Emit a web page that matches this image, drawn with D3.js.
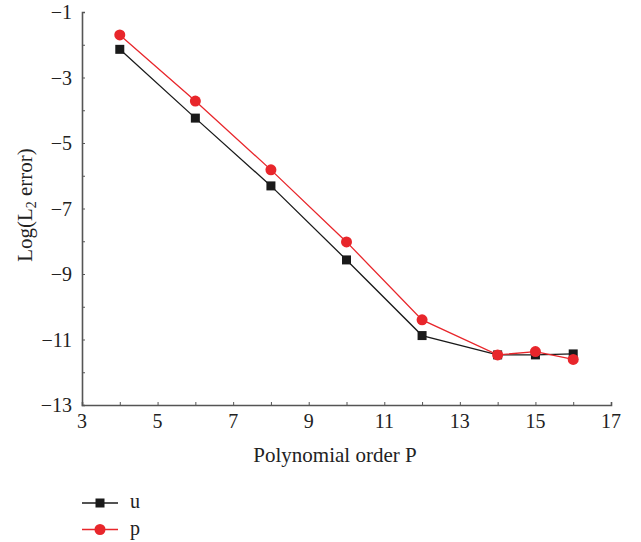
<!DOCTYPE html>
<html>
<head>
<meta charset="utf-8">
<script src="https://cdn.jsdelivr.net/npm/d3@7"></script>
<style>
  body { margin: 0; background: #fff; }
  svg text { font-family: "Liberation Serif", serif; fill: #222; }
</style>
</head>
<body>
<svg id="chart" width="641" height="542"></svg>
<script>
// polynomial order and log of L2 error for each field
const orders = [4, 6, 8, 10, 12, 14, 15, 16];
const erreurU = [-2.14, -4.24, -6.31, -8.57, -10.88, -11.47, -11.47, -11.44];
const erreurP = [-1.70, -3.72, -5.82, -8.02, -10.40, -11.47, -11.37, -11.61];
const xTicks = [3, 5, 7, 9, 11, 13, 15, 17];
const yTicks = [-1, -3, -5, -7, -9, -11, -13];

const svg = d3.select("#chart");
const marge = { left: 82, right: 30, top: 12, bottom: 137 };
const largeur = 641, hauteur = 542;

const x = d3.scaleLinear().domain([3, 17]).range([marge.left, largeur - marge.right]);
const y = d3.scaleLinear().domain([-13, -1]).range([hauteur - marge.bottom, marge.top]);

const couleurAxe = "#555";

// axes with inward minor ticks
const axeX = svg.append("g").attr("transform", `translate(0,${y(-13)})`)
  .call(d3.axisBottom(x).tickValues(d3.range(3, 18, 1)).tickSize(-3).tickFormat(""));
const axeY = svg.append("g").attr("transform", `translate(${x(3)},0)`)
  .call(d3.axisLeft(y).tickValues(d3.range(-13, 0, 1)).tickSize(-3).tickFormat(""));

[axeX, axeY].forEach(a => {
  a.select(".domain").attr("stroke", couleurAxe).attr("stroke-width", 1.6);
  a.selectAll(".tick line").attr("stroke", couleurAxe).attr("stroke-width", 1);
});

// tick labels
svg.append("g").selectAll("text").data(xTicks).enter().append("text")
  .attr("x", d => x(d)).attr("y", y(-13) + 23)
  .attr("text-anchor", "middle").style("font-size", "20px")
  .text(d => d);

svg.append("g").selectAll("text").data(yTicks).enter().append("text")
  .attr("x", x(3) - 10).attr("y", d => y(d)).attr("dy", "0.35em")
  .attr("text-anchor", "end").style("font-size", "20px")
  .text(d => "\u2212" + Math.abs(d));

// axis titles
svg.append("text")
  .attr("x", 335).attr("y", 462)
  .attr("text-anchor", "middle").style("font-size", "21px")
  .text("Polynomial order P");

const titreY = svg.append("text")
  .attr("transform", `translate(32,205) rotate(-90)`)
  .attr("text-anchor", "middle").style("font-size", "21px");
titreY.append("tspan").text("Log(L");
titreY.append("tspan").attr("dy", 4).style("font-size", "14px").text("2");
titreY.append("tspan").attr("dy", -4).text(" error)");

const series = [
  { nom: "u", valeurs: erreurU, couleur: "#1a1a1a", forme: "carre" },
  { nom: "p", valeurs: erreurP, couleur: "#e8262b", forme: "rond" }
];

const ligne = d3.line().x(d => x(d[0])).y(d => y(d[1]));

function dessinerMarque(g, forme, couleur, cx, cy) {
  if (forme === "carre") {
    g.append("rect").attr("x", cx - 4.5).attr("y", cy - 4.5)
      .attr("width", 9).attr("height", 9).attr("fill", couleur);
  } else {
    g.append("circle").attr("cx", cx).attr("cy", cy).attr("r", 5.5).attr("fill", couleur);
  }
}

series.forEach(s => {
  const pts = orders.map((o, i) => [o, s.valeurs[i]]);
  svg.append("path").datum(pts)
    .attr("d", ligne).attr("fill", "none")
    .attr("stroke", s.couleur).attr("stroke-width", 1.3);
  const g = svg.append("g");
  pts.forEach(p => dessinerMarque(g, s.forme, s.couleur, x(p[0]), y(p[1])));
});

// legend
series.forEach((s, i) => {
  const ly = 503 + i * 26.5;
  const g = svg.append("g");
  g.append("line").attr("x1", 82).attr("x2", 118).attr("y1", ly).attr("y2", ly)
    .attr("stroke", s.couleur).attr("stroke-width", 1.3);
  dessinerMarque(g, s.forme, s.couleur, 100, ly);
  g.append("text").attr("x", 130).attr("y", ly).attr("dy", "0.25em")
    .style("font-size", "20px").text(s.nom);
});
</script>
</body>
</html>
